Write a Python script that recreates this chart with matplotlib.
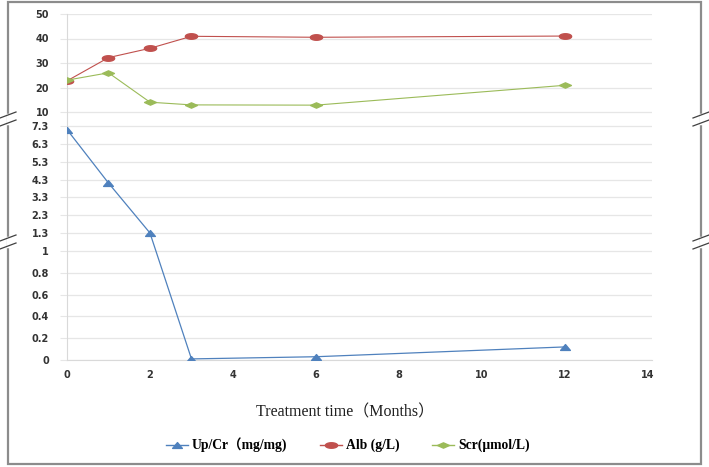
import numpy as np
import matplotlib
matplotlib.use('Agg')
import matplotlib.pyplot as plt
from matplotlib.path import Path
from matplotlib.patches import Rectangle
from matplotlib.lines import Line2D

# data
months = [0, 1, 2, 3, 6, 12]
up_cr = [7.1, 4.1, 1.3, 0.01, 0.03, 0.12]
alb = [22.7, 32.2, 36.0, 40.9, 40.5, 41.0]
scr = [23.0, 26.0, 14.0, 12.9, 12.8, 20.9]

y_ticks = [0, 0.2, 0.4, 0.6, 0.8, 1, 1.3, 2.3, 3.3, 4.3, 5.3, 6.3, 7.3, 10, 20, 30, 40, 50]
y_tick_labels = ['0', '0.2', '0.4', '0.6', '0.8', '1', '1.3', '2.3', '3.3', '4.3',
                 '5.3', '6.3', '7.3', '10', '20', '30', '40', '50']
x_ticks = [0, 2, 4, 6, 8, 10, 12, 14]

# broken y axis -> piecewise linear scale (value -> relative height)
seg_vals = [0, 1, 1.3, 7.3, 10, 50]
seg_pos = [0, 109, 127, 234, 248, 346]


def fwd(y):
    return np.interp(y, seg_vals, seg_pos)


def inv(p):
    return np.interp(p, seg_pos, seg_vals)


# flattened markers like in the original
t = np.linspace(0, 2 * np.pi, 40)
ellipse = Path(np.column_stack([np.cos(t), 0.45 * np.sin(t)]), closed=True)
diamond = Path([(-1, 0), (0, 0.45), (1, 0), (0, -0.45), (-1, 0)], closed=True)
triangle = Path([(-1, -0.6), (1, -0.6), (0, 0.6), (-1, -0.6)], closed=True)

blue = '#4f81bd'
red = '#c0504d'
green = '#9bbb59'
grid_c = '#e6e6e6'

W, H = 709, 467
fig = plt.figure(figsize=(W / 100, H / 100), dpi=100)
ax = fig.add_axes([67 / W, (H - 360) / H, (652 - 67) / W, 346 / H])
ax.set_yscale('function', functions=(fwd, inv))
ax.set_ylim(0, 50)
ax.set_xlim(0, 14.1)

ax.plot(months, up_cr, color=blue, lw=0.9, marker=triangle, ms=7, mec=blue, mfc=blue, zorder=3)
ax.plot(months, alb, color=red, lw=0.8, marker=ellipse, ms=8.8, mec=red, mfc=red, zorder=3)
ax.plot(months, scr, color=green, lw=0.8, marker=diamond, ms=8.5, mec=green, mfc=green, zorder=3)

ax.set_yticks(y_ticks)
ax.set_yticklabels(y_tick_labels)
ax.set_xticks(x_ticks)
ax.yaxis.set_minor_locator(matplotlib.ticker.NullLocator())
ax.grid(axis='y', color=grid_c, lw=0.9)
ax.set_axisbelow(True)
for s in ['top', 'right']:
    ax.spines[s].set_visible(False)
for s in ['left', 'bottom']:
    ax.spines[s].set_color('#d9d9d9')
ax.tick_params(axis='y', length=5, color=grid_c, pad=8, labelsize=7, labelcolor='#333333')
ax.tick_params(axis='x', length=0, pad=7, labelsize=7, labelcolor='#333333')
for lab in ax.get_xticklabels() + ax.get_yticklabels():
    lab.set_fontweight('bold')

fig.text(345 / W, 1 - 412 / H, 'Treatment time（Months）', ha='center', va='center',
         family=['Liberation Serif', 'Noto Sans CJK SC'], fontsize=11.5, color='#202020')

handles = [
    Line2D([], [], color=blue, lw=1, marker=triangle, ms=7, mec=blue, mfc=blue),
    Line2D([], [], color=red, lw=1, marker=ellipse, ms=8.8, mec=red, mfc=red),
    Line2D([], [], color=green, lw=1, marker=diamond, ms=8.5, mec=green, mfc=green),
]
labels = ['Up/Cr（mg/mg)', 'Alb (g/L)', 'Scr(μmol/L)']
fig.legend(handles, labels, loc='center', bbox_to_anchor=(348 / W, 1 - 445 / H), ncol=3,
           frameon=False, handlelength=1.6, handletextpad=0.3, columnspacing=2.4,
           prop={'family': ['Liberation Serif', 'Noto Sans CJK SC'], 'weight': 'bold', 'size': 9.8})

# outer frame of the picture
fig.add_artist(Rectangle((8 / W, 3 / H), (701 - 8) / W, 462 / H, transform=fig.transFigure,
                         fill=False, ec='#8c8c8c', lw=1.6))

# break marks on the frame, aligned with the axis breaks
for y_lo, y_hi in [(1, 1.3), (7.3, 10)]:
    y_mid = inv((fwd(y_lo) + fwd(y_hi)) / 2)
    yp = ax.transData.transform((0, y_mid))[1]
    for xp in [8, 701]:
        fig.add_artist(Line2D([xp / W, xp / W], [(yp - 4) / H, (yp + 4) / H],
                              transform=fig.transFigure, color='white', lw=2.5))
        for off in [-4, 4]:
            fig.add_artist(Line2D([(xp - 8) / W, (xp + 8) / W],
                                  [(yp + off - 3) / H, (yp + off + 3) / H],
                                  transform=fig.transFigure, color='#404040', lw=0.9))

fig.savefig('out.png', dpi=100)
